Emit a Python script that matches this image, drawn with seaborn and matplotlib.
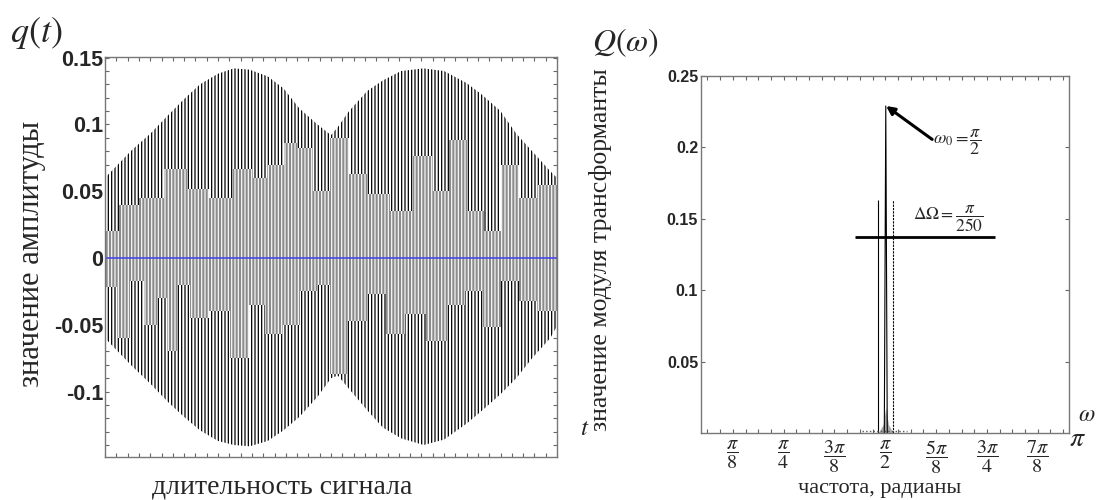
import numpy as np
import matplotlib
matplotlib.use("Agg")
import matplotlib.pyplot as plt
import seaborn as sns
from matplotlib.ticker import MultipleLocator

sns.set_style("ticks")
plt.rcParams["font.family"] = ["Liberation Sans", "DejaVu Sans"]
plt.rcParams["mathtext.fontset"] = "stix"
plt.rcParams["hatch.linewidth"] = 0.9

W, H = 1097, 500

# ---- left panel: signal q(t), envelope ----
t_env = [0, 60, 100, 140, 175, 210, 250, 285, 320, 360, 395, 430, 470, 500,
         515, 540, 580, 615, 655, 705, 750, 800, 835, 875, 910, 945, 985, 1000]
q_upper = [0.060, 0.081, 0.093, 0.107, 0.119, 0.130, 0.138, 0.142, 0.141, 0.136,
           0.127, 0.112, 0.100, 0.092, 0.098, 0.110, 0.125, 0.133, 0.140, 0.142,
           0.140, 0.131, 0.122, 0.110, 0.093, 0.080, 0.065, 0.060]
q_lower = [-0.060, -0.081, -0.094, -0.108, -0.119, -0.129, -0.137, -0.140, -0.141,
           -0.137, -0.129, -0.119, -0.104, -0.090, -0.088, -0.098, -0.114, -0.127,
           -0.135, -0.140, -0.136, -0.124, -0.114, -0.102, -0.090, -0.075, -0.060,
           -0.051]

# inner (grey) part of the oscillation
t_in_up = [0, 11, 49, 100, 159, 204, 254, 310, 343, 376, 414, 442, 476, 520, 560,
           604, 659, 704, 741, 781, 819, 858, 896, 934, 978, 1000]
q_in_up = [0.020, 0.020, 0.040, 0.045, 0.067, 0.052, 0.045, 0.067, 0.060, 0.070,
           0.086, 0.082, 0.050, 0.090, 0.063, 0.048, 0.035, 0.076, 0.050, 0.088,
           0.035, 0.020, 0.070, 0.045, 0.055, 0.055]
t_in_lo = [0, 11, 40, 71, 100, 128, 150, 173, 204, 254, 299, 336, 372, 409, 454,
           482, 515, 560, 600, 642, 686, 734, 779, 814, 858, 896, 934, 978, 1000]
q_in_lo = [-0.022, -0.022, -0.060, -0.017, -0.050, -0.030, -0.070, -0.020, -0.045,
           -0.040, -0.075, -0.035, -0.057, -0.050, -0.025, -0.020, -0.087, -0.047,
           -0.027, -0.057, -0.042, -0.062, -0.035, -0.025, -0.052, -0.017, -0.032,
           -0.040, -0.040]

left_yticks = [-0.1, -0.05, 0, 0.05, 0.1, 0.15]
left_ylabels = ["-0.1", "-0.05", "0", "0.05", "0.1", "0.15"]

# ---- right panel: spectrum Q(w) ----
w_peak = [1.563, 1.5745, 1.586]
Q_peak = [0.0, 0.229, 0.0]
w_side = [1.515, 1.631]
Q_side = 0.163
w_base = [1.515, 1.555, 1.5745, 1.595, 1.631]
Q_base = [0.0, 0.006, 0.018, 0.006, 0.0]
band_level = 0.137
band_w = [1.337, 2.42]
right_yticks = [0.05, 0.1, 0.15, 0.2, 0.25]
right_ylabels = ["0.05", "0.1", "0.15", "0.2", "0.25"]
xtick_k = [1, 2, 3, 4, 5, 6, 7]
xtick_labels = [r"$\dfrac{\pi}{8}$", r"$\dfrac{\pi}{4}$", r"$\dfrac{3\pi}{8}$",
                r"$\dfrac{\pi}{2}$", r"$\dfrac{5\pi}{8}$", r"$\dfrac{3\pi}{4}$",
                r"$\dfrac{7\pi}{8}$"]

fig = plt.figure(figsize=(W / 100, H / 100), dpi=100)
ax1 = fig.add_axes([105 / W, 1 - 457 / H, 452 / W, 400 / H])
ax2 = fig.add_axes([701 / W, 1 - 433 / H, 368 / W, 357 / H])

# left
ax1.fill_between(t_env, q_lower, q_upper, facecolor="white", edgecolor="black",
                 hatch="|||||", linewidth=0)
ax1.fill_between(t_in_up, 0, q_in_up, step="mid", facecolor="#8c8c8c",
                 edgecolor="#f6f6f6", hatch="|||||", linewidth=0)
ax1.fill_between(t_in_lo, q_in_lo, 0, step="mid", facecolor="#8c8c8c",
                 edgecolor="#f6f6f6", hatch="|||||", linewidth=0)
sns.lineplot(x=[0, 1000], y=[0, 0], color="#4848e8", lw=1.2, ax=ax1)
ax1.set_xlim(0, 1000)
ax1.set_ylim(-0.149, 0.1505)
ax1.xaxis.set_major_locator(MultipleLocator(25))
ax1.set_yticks(left_yticks)
ax1.set_yticklabels(left_ylabels, fontweight="bold", fontsize=15.5)
ax1.yaxis.set_minor_locator(MultipleLocator(0.01))
ax1.tick_params(axis="x", labelbottom=False)

# right
sns.lineplot(x=w_peak, y=Q_peak, color="black", lw=0.8, sort=False, ax=ax2)
ax2.fill_between(w_base, 0, Q_base, color="#a8a8a8", lw=0)
ax2.vlines(w_side[0], 0, Q_side, color="black", lw=0.8)
ax2.vlines(w_side[1], 0, Q_side, color="black", lw=0.8, linestyles=(0, (2, 1)))
ax2.hlines(band_level, band_w[0], band_w[1], color="black", lw=2)
ax2.plot([1.392, 1.74], [0.0015, 0.0015], color="#555555", lw=1, ls=":")
ax2.annotate("", xy=(1.577, 0.229), xytext=(1.933, 0.2056),
             arrowprops=dict(arrowstyle="-|>", lw=2.2, color="black",
                             mutation_scale=12, shrinkA=0, shrinkB=0))
ax2.text(2.13, 0.2035, r"$\omega_0 = \dfrac{\pi}{2}$", fontsize=13,
         ha="center", va="center")
ax2.text(2.06, 0.150, r"$\Delta\Omega = \dfrac{\pi}{250}$", fontsize=12.5,
         ha="center", va="center")
ax2.set_xlim(0.147, 2.99)
ax2.set_ylim(0, 0.25)
ax2.set_xticks([k * np.pi / 8 for k in xtick_k])
ax2.set_xticklabels(xtick_labels, fontsize=14.5)
ax2.xaxis.set_minor_locator(MultipleLocator(np.pi / 32))
ax2.set_yticks(right_yticks)
ax2.set_yticklabels(right_ylabels, fontweight="bold", fontsize=11.5)

for ax in (ax1, ax2):
    ax.tick_params(axis="both", which="both", direction="in", top=True,
                   right=True, length=3, width=0.8, color="#666666", pad=2)
    for sp in ax.spines.values():
        sp.set_color("#777777")
        sp.set_linewidth(1)
ax2.tick_params(axis="x", which="major", pad=4)
ax1.tick_params(axis="y", which="major", pad=1)

# texts
def px(x, y):
    return x / W, 1 - y / H

serif = ["Liberation Serif", "DejaVu Serif"]
fig.text(*px(36, 33), r"$q(t)$", fontsize=26, ha="center", va="center")
fig.text(*px(625, 43), r"$Q(\omega)$", fontsize=23, ha="center", va="center")
fig.text(*px(585, 428), r"$t$", fontsize=18, ha="center", va="center")
fig.text(*px(1087, 415), r"$\omega$", fontsize=17, ha="center", va="center")
fig.text(*px(1077, 439), r"$\pi$", fontsize=20, ha="center", va="center")
fig.text(*px(32, 254), "значение амплитуды", rotation=90, family=serif,
         fontsize=22, ha="center", va="center")
fig.text(*px(282, 487), "длительность сигнала", family=serif, fontsize=20,
         ha="center", va="center")
fig.text(*px(600, 250), "значение модуля трансформанты", rotation=90,
         family=serif, fontsize=18.5, ha="center", va="center")
fig.text(*px(880, 489), "частота, радианы", family=serif, fontsize=16,
         ha="center", va="center")

fig.savefig("out.png", dpi=100)
